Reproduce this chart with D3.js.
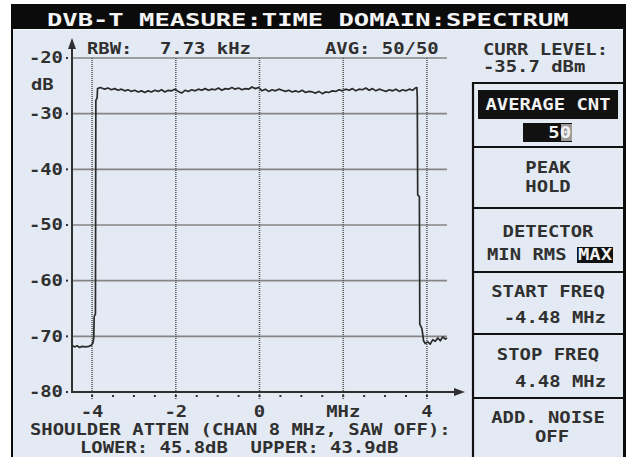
<!DOCTYPE html>
<html>
<head>
<meta charset="utf-8">
<script src="https://cdn.jsdelivr.net/npm/d3@7/dist/d3.min.js"></script>
<style>
	html, body { margin: 0; padding: 0; background: #fff; }
	svg { display: block; }
	text { font-family: "DejaVu Sans Mono", monospace; white-space: pre; }
</style>
</head>
<body>
<script>
// spectrum trace (MHz / dB)
var traceFreq = [
	-4.48, -4.42, -4.36, -4.30, -4.24, -4.16, -4.08, -4.02, -3.98, -3.96, -3.95, -3.92, -3.91, -3.88, -3.87,
	-3.80, -3.70, -3.62, -3.54, -3.46, -3.38, -3.30, -3.22, -3.14, -3.06, -2.98, -2.90, -2.82, -2.74, -2.66,
	-2.58, -2.50, -2.42, -2.34, -2.26, -2.18, -2.10, -2.02, -1.94, -1.86, -1.78, -1.70, -1.62, -1.54, -1.46,
	-1.38, -1.30, -1.22, -1.14, -1.06, -0.98, -0.90, -0.82, -0.74, -0.66, -0.58, -0.50, -0.42, -0.34, -0.26,
	-0.18, -0.10, -0.02, 0.06, 0.14, 0.22, 0.30, 0.38, 0.46, 0.54, 0.62, 0.70, 0.78, 0.86, 0.94,
	1.02, 1.10, 1.18, 1.26, 1.34, 1.42, 1.50, 1.58, 1.66, 1.74, 1.82, 1.90, 1.98, 2.06, 2.14,
	2.22, 2.30, 2.38, 2.46, 2.54, 2.62, 2.70, 2.78, 2.86, 2.94, 3.02, 3.10, 3.18, 3.26, 3.34,
	3.42, 3.50, 3.58, 3.66, 3.72, 3.76, 3.77, 3.78, 3.82, 3.83, 3.88, 3.90, 3.92, 3.96, 4.02,
	4.08, 4.14, 4.20, 4.26, 4.32, 4.38, 4.44, 4.48
];
var traceLevel = [
	-71.6, -71.9, -71.7, -72.0, -71.8, -71.9, -71.8, -71.6, -71.2, -70.3, -66.4, -66.0, -27.6, -27.2, -25.5,
	-25.3, -25.6, -25.4, -25.7, -25.5, -25.8, -25.6, -25.9, -25.7, -26.0, -25.8, -26.1, -25.9, -26.2, -25.9,
	-26.1, -25.8, -26.0, -25.7, -26.1, -25.8, -25.9, -25.6, -26.0, -26.3, -25.8, -26.0, -25.7, -25.9, -25.6,
	-25.8, -25.5, -25.8, -25.6, -25.7, -25.4, -25.8, -25.5, -25.6, -25.3, -25.6, -25.4, -25.7, -25.5, -25.6,
	-25.2, -25.5, -25.3, -25.9, -25.6, -26.0, -25.7, -25.9, -25.6, -25.8, -26.0, -25.8, -26.1, -25.9, -26.1,
	-25.8, -26.2, -26.0, -26.1, -26.3, -26.0, -26.4, -26.1, -26.2, -25.9, -26.0, -25.7, -25.9, -25.6, -25.8,
	-25.5, -25.9, -25.6, -25.7, -25.4, -25.8, -25.5, -25.9, -25.6, -25.8, -26.0, -25.7, -25.9, -25.6, -26.0,
	-25.7, -25.9, -25.6, -25.8, -25.4, -25.3, -27.0, -44.6, -44.9, -67.8, -68.6, -69.6, -70.8, -71.3, -71.0,
	-71.4, -70.6, -70.9, -70.3, -70.8, -70.1, -70.5, -70.3
];

var yTicks = [-20, -30, -40, -50, -60, -70, -80];
var xTicks = [-4, -2, 0, 2, 4];
var xTickLabels = ['-4', '-2', '0', 'MHz', '4'];
var xMinor = [-4.5, -4, -3.5, -3, -2.5, -2, -1.5, -1, -0.5, 0, 0.5, 1, 1.5, 2, 2.5, 3, 3.5, 4];

var title = 'DVB-T MEASURE:TIME DOMAIN:SPECTRUM';
var rbwText = ['RBW:', '7.73 kHz'];
var avgText = 'AVG: 50/50';
var currLevel = ['CURR LEVEL:', '-35.7 dBm'];
var shoulderText = ['SHOULDER ATTEN (CHAN 8 MHz, SAW OFF):', 'LOWER: 45.8dB  UPPER: 43.9dB'];

(function (d3) {
	'use strict';

	var width = 626,
	    height = 457,
	    ink = '#303030',
	    bg = '#e3eaf3',
	    grid = '#858585';

	var svg = d3.select('body')
		.append('svg')
		.attr('width', width)
		.attr('height', height);

	var x = d3.scaleLinear().domain([-4.48, 4.48]).range([72, 447]);
	var y = d3.scaleLinear().domain([-80, -20]).range([392, 58]);

	// write text with the wide instrument font
	function label(s, px, py, o) {
		o = o || {};
		return svg.append('text')
			.attr('transform', 'translate(' + px + ',' + py + ') scale(' + (o.sx || 1.26) + ',1)')
			.attr('dy', '0.36em')
			.attr('text-anchor', o.anchor || 'start')
			.style('font-size', (o.size || 15) + 'px')
			.style('font-weight', o.weight || 'bold')
			.style('fill', o.fill || ink)
			.text(s);
	}

	// frame + title bar
	svg.append('rect').attr('x', 11).attr('y', 4).attr('width', 615).attr('height', 453).style('fill', '#0b0b0b');
	svg.append('rect').attr('x', 13).attr('y', 29).attr('width', 610).attr('height', 428).style('fill', '#f4f7fb');
	svg.append('rect').attr('x', 13).attr('y', 30).attr('width', 610).attr('height', 427).style('fill', bg);

	label(title, 47, 20, { size: 17, sx: 1.5, fill: '#f4f4f4' });

	// grid
	svg.selectAll('line.hgrid').data(yTicks.filter(function (d) { return d > -80; })).enter()
		.append('line')
			.attr('class', 'hgrid')
			.attr('x1', x(-4.48)).attr('x2', x(4.48))
			.attr('y1', function (d) { return y(d); })
			.attr('y2', function (d) { return y(d); })
			.style('stroke', grid)
			.style('stroke-width', 1.6);

	svg.selectAll('line.vgrid').data(xTicks).enter()
		.append('line')
			.attr('class', 'vgrid')
			.attr('x1', function (d) { return x(d); })
			.attr('x2', function (d) { return x(d); })
			.attr('y1', y(-20)).attr('y2', 400)
			.style('stroke', '#5a5a5a')
			.style('stroke-width', 1.6)
			.style('stroke-dasharray', '1,1');

	// minor ticks under x axis
	svg.selectAll('rect.minor').data(xMinor.filter(function (d) { return d > -4.48; })).enter()
		.append('rect')
			.attr('class', 'minor')
			.attr('x', function (d) { return x(d) - 1; })
			.attr('y', 395)
			.attr('width', 2).attr('height', 2)
			.style('fill', ink);

	// y tick dots + labels
	svg.selectAll('rect.ytick').data(yTicks).enter()
		.append('rect')
			.attr('class', 'ytick')
			.attr('x', 66).attr('width', 2).attr('height', 2)
			.attr('y', function (d) { return y(d) - 1; })
			.style('fill', ink);

	yTicks.forEach(function (d) {
		label(String(d), 63, y(d), { anchor: 'end' });
	});
	label('dB', 31, 85);

	xTicks.forEach(function (d, i) {
		label(xTickLabels[i], x(d), 412, { anchor: 'middle' });
	});

	// axes with arrows
	svg.append('line')
		.attr('x1', x(-4.48)).attr('x2', x(-4.48)).attr('y1', 46).attr('y2', 393)
		.style('stroke', ink).style('stroke-width', 2);
	svg.append('path')
		.attr('d', d3.line()([[x(-4.48), 38], [x(-4.48) + 4, 49], [x(-4.48) - 4, 49]]) + 'Z')
		.style('fill', ink);
	svg.append('line')
		.attr('x1', x(-4.48) - 1).attr('x2', 456).attr('y1', y(-80)).attr('y2', y(-80))
		.style('stroke', ink).style('stroke-width', 2);
	svg.append('path')
		.attr('d', d3.line()([[465, y(-80)], [454, y(-80) - 4], [454, y(-80) + 4]]) + 'Z')
		.style('fill', ink);

	// the trace
	var trace = d3.zip(traceFreq, traceLevel);
	svg.append('path')
		.datum(trace)
		.attr('d', d3.line()
			.x(function (d) { return x(d[0]); })
			.y(function (d) { return y(d[1]); }))
		.style('fill', 'none')
		.style('stroke', '#2a2a2a')
		.style('stroke-width', 1.7)
		.style('stroke-linejoin', 'round');

	// header texts inside plot
	label(rbwText[0], 87, 49);
	label(rbwText[1], 160, 49);
	label(avgText, 325, 49);

	// bottom texts
	label(shoulderText[0], 30, 430);
	label(shoulderText[1], 80, 448);

	// right panel
	label(currLevel[0], 483, 50);
	label(currLevel[1], 483, 67);

	var panelX = 473, panelR = 623;
	var seps = [83, 147, 208, 272, 334, 398];
	svg.append('line')
		.attr('x1', panelX).attr('x2', panelX).attr('y1', 82).attr('y2', 457)
		.style('stroke', '#111').style('stroke-width', 2.2);
	svg.selectAll('line.sep').data(seps).enter()
		.append('line')
			.attr('class', 'sep')
			.attr('x1', panelX).attr('x2', panelR)
			.attr('y1', function (d) { return d; })
			.attr('y2', function (d) { return d; })
			.style('stroke', '#111').style('stroke-width', 2);

	var cx = 548;
	svg.append('rect').attr('x', 478).attr('y', 90).attr('width', 140).attr('height', 29).style('fill', '#111');
	label('AVERAGE CNT', cx, 105, { anchor: 'middle', fill: '#f2f2f2' });
	svg.append('rect').attr('x', 523).attr('y', 123).attr('width', 49).attr('height', 19).style('fill', '#111');
	svg.append('rect').attr('x', 561).attr('y', 124).attr('width', 11).attr('height', 17).style('fill', '#9a9a9a');
	label('50', 571, 133, { anchor: 'end', fill: '#f2f2f2' });

	label('PEAK', cx, 168, { anchor: 'middle' });
	label('HOLD', cx, 187, { anchor: 'middle' });

	label('DETECTOR', cx, 232, { anchor: 'middle' });
	svg.append('rect').attr('x', 577).attr('y', 247).attr('width', 36).attr('height', 16).style('fill', '#111');
	label('MIN RMS', 487, 255);
	label('MAX', 578, 255, { fill: '#f2f2f2' });

	label('START FREQ', cx, 292, { anchor: 'middle' });
	label('-4.48 MHz', 606, 318, { anchor: 'end' });

	label('STOP FREQ', cx, 355, { anchor: 'middle' });
	label('4.48 MHz', 606, 382, { anchor: 'end' });

	label('ADD. NOISE', cx, 418, { anchor: 'middle' });
	label('OFF', 552, 437, { anchor: 'middle' });
})(d3);
</script>
</body>
</html>
